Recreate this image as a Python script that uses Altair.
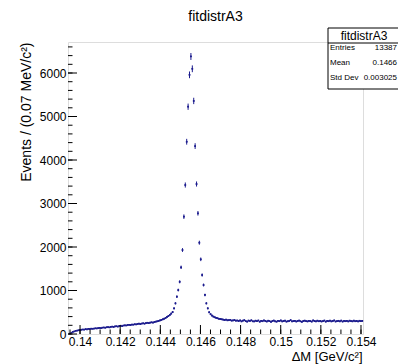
import altair as alt
import pandas as pd
import numpy as np

# ---------------- data ----------------
x_min = 0.1394          # lower edge of first bin (GeV/c^2)
bin_width = 0.00007     # 0.07 MeV/c^2

counts = [
    0, 10, 30, 48, 60, 72, 80, 86, 92, 98,
    104, 100, 112, 108, 118, 115, 122, 120, 126, 131,
    128, 136, 140, 135, 146, 150, 144, 155, 160, 152,
    164, 170, 162, 175, 178, 172, 185, 190, 182, 195,
    200, 196, 208, 212, 205, 218, 215, 224, 220, 230,
    236, 228, 240, 246, 238, 252, 258, 250, 262, 268,
    262, 276, 284, 292, 300, 312, 325, 338, 352, 370,
    392, 415, 440, 470, 505,
    590, 705, 857, 1010, 1200, 1533, 1931, 2697, 3425, 4420,
    5225, 5958, 6380, 6097, 5358, 4320, 3448, 2775, 2099, 1717,
    1356, 1126, 897, 705, 590, 500, 455, 425, 400, 385,
    370, 362, 350, 345, 338, 330,
    322, 330, 315, 318, 325, 308, 312, 320, 305, 310,
    298, 312, 290, 305, 318, 296, 285, 308, 300, 315,
    292, 288, 306, 297, 310, 283, 302, 294, 311, 299,
    287, 305, 296, 280, 300, 309, 291, 284, 303, 295,
    312, 289, 298, 306, 285, 293, 301, 318, 290, 296,
    304, 287, 299, 310, 292, 281, 300, 307, 295, 289,
    302, 296, 285, 311, 298, 290, 306, 293, 300, 288,
    297, 309, 284, 301, 294, 305, 290, 299, 312, 287,
    296, 303, 291, 308, 286, 300, 294, 302, 289, 306,
    298, 291, 305, 293, 300, 288, 304, 297, 301,
]

x_major = [0.14, 0.142, 0.144, 0.146, 0.148, 0.15, 0.152, 0.154]
y_major = [0, 1000, 2000, 3000, 4000, 5000, 6000]

x_domain = [0.1394, 0.1541]
y_domain = [0, 6713]

chart_title = "fitdistrA3"
stat_title = "fitdistrA3"
stat_names = ["Entries", "Mean", "Std Dev"]
stat_values = ["13387", "0.1466", "0.003025"]

# ---------------- tables ----------------
n = np.array(counts, dtype=float)
lo = x_min + bin_width * np.arange(len(counts))
df = pd.DataFrame({
    "x": lo + bin_width / 2,
    "lo": lo,
    "hi": lo + bin_width,
    "n": n,
    "elo": n - np.sqrt(n),
    "ehi": n + np.sqrt(n),
})
df = df[df["n"] > 0]

x_minor = np.round(np.arange(0.1395, 0.1541, 0.0005), 5)
y_minor = np.arange(0, 6701, 200)

W, H = 295, 292
BLUE = "#1c1c8e"
FONT = "Liberation Sans"

xs = alt.Scale(domain=x_domain, nice=False, zero=False)
ys = alt.Scale(domain=y_domain, nice=False, zero=False)

x_axis = alt.Axis(values=x_major, format="~g", ticks=False, domain=False, grid=False,
                  labelFontSize=12, labelFont=FONT, labelPadding=2, labelFlush=False,
                  labelOverlap=False, labelBound=False, labelColor="black",
                  title="ΔM [GeV/c²]", titleFont=FONT, titleFontSize=13,
                  titleFontWeight="normal", titleColor="black",
                  titleX=W - 1, titleY=22, titleAlign="right", titleBaseline="middle")
y_axis = alt.Axis(values=y_major, format="d", ticks=False, domain=False, grid=False,
                  labelFontSize=12, labelFont=FONT, labelPadding=2, labelColor="black",
                  title="Events / (0.07 MeV/c²)", titleFont=FONT, titleFontSize=14,
                  titleFontWeight="normal", titleColor="black",
                  titleX=-42, titleY=0, titleAlign="right", titleAngle=-90,
                  titleBaseline="middle")

base = alt.Chart(df)
vbar = base.mark_rule(color=BLUE, strokeWidth=1).encode(
    x=alt.X("x:Q", scale=xs, axis=x_axis),
    y=alt.Y("elo:Q", scale=ys, axis=y_axis),
    y2="ehi:Q",
)
hbar = base.mark_rule(color=BLUE, strokeWidth=1).encode(
    x=alt.X("lo:Q", scale=xs), x2="hi:Q", y=alt.Y("n:Q", scale=ys))
pts = base.mark_point(color=BLUE, filled=True, shape="square", size=3, opacity=1).encode(
    x=alt.X("x:Q", scale=xs), y=alt.Y("n:Q", scale=ys))

def xticks(vals, length):
    d = pd.DataFrame({"x": vals})
    return alt.Chart(d).mark_rule(color="black", strokeWidth=1).encode(
        x=alt.X("x:Q", scale=xs), y=alt.value(H), y2=alt.value(H - length))

def yticks(vals, length):
    d = pd.DataFrame({"n": vals})
    return alt.Chart(d).mark_rule(color="black", strokeWidth=1).encode(
        y=alt.Y("n:Q", scale=ys), x=alt.value(0), x2=alt.value(length))

one = pd.DataFrame({"a": [0]})
title_mark = alt.Chart(one).mark_text(font=FONT, fontSize=14, align="center",
                                      baseline="middle", color="black").encode(
    x=alt.value(W / 2), y=alt.value(-25), text=alt.value(chart_title))
box = alt.Chart(one).mark_rect(fill="white", stroke="black", strokeWidth=1).encode(
    x=alt.value(260), x2=alt.value(345), y=alt.value(-14), y2=alt.value(47))
sep = alt.Chart(one).mark_rule(color="black", strokeWidth=1).encode(
    x=alt.value(260), x2=alt.value(345), y=alt.value(1))
box_title = alt.Chart(one).mark_text(font=FONT, fontSize=12, align="center",
                                     baseline="middle", color="black").encode(
    x=alt.value(296), y=alt.value(-6.5), text=alt.value(stat_title))
rows = []
for k, (nm, val) in enumerate(zip(stat_names, stat_values)):
    yy = 6 + 15 * k
    rows.append(alt.Chart(one).mark_text(font=FONT, fontSize=8, align="left",
                                         baseline="middle", color="black").encode(
        x=alt.value(262), y=alt.value(yy), text=alt.value(nm)))
    rows.append(alt.Chart(one).mark_text(font=FONT, fontSize=8, align="right",
                                         baseline="middle", color="black").encode(
        x=alt.value(329), y=alt.value(yy), text=alt.value(val)))

chart = alt.layer(
    vbar, hbar, pts,
    xticks(x_minor, 4.5), xticks(x_major, 9),
    yticks(y_minor, 4.5), yticks(y_major, 9),
    title_mark, box, sep, box_title, *rows,
).properties(
    width=W, height=H,
    autosize=alt.AutoSizeParams(type="none"),
    padding={"left": 68, "top": 42, "right": 35, "bottom": 30},
).configure_view(stroke="black", strokeWidth=1).configure(background="white")

chart.save("out.html", embed_options={"renderer": "svg", "actions": False})
